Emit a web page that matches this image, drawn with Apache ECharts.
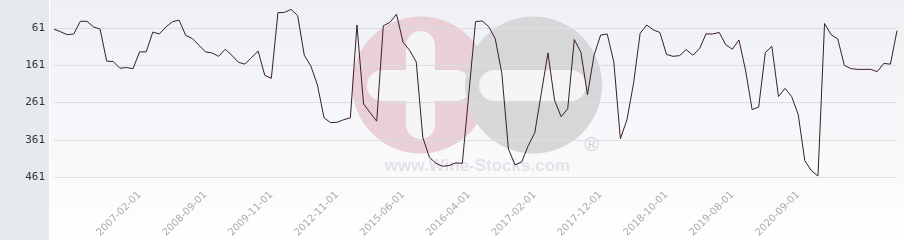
<!DOCTYPE html>
<html>
<head>
<meta charset="utf-8">
<script src="https://cdn.jsdelivr.net/npm/echarts@6/dist/echarts.min.js"></script>
<style>
  html, body { margin: 0; padding: 0; background: #ffffff; }
  #chart { width: 904px; height: 240px; }
</style>
</head>
<body>
<div id="chart"></div>
<script>
// Rank values (lower is better; the y axis is inverted), one per period
const rankValues = [
  64, 71, 79, 77, 43, 43, 58, 64, 150, 151,
  169, 167, 170, 125, 125, 72, 77, 58, 44, 40,
  81, 89, 107, 125, 128, 137, 118, 134, 153, 158,
  140, 123, 188, 196, 20, 19, 11, 28, 134, 163,
  214, 302, 315, 314, 307, 302, 53, 265, 288, 311,
  55, 46, 24, 99, 121, 152, 355, 408, 424, 432,
  430, 423, 424, 235, 44, 42, 57, 90, 183, 386,
  428, 421, 377, 342, 235, 128, 255, 299, 278, 92,
  126, 240, 134, 80, 77, 152, 358, 307, 209, 75,
  53, 66, 73, 132, 137, 135, 119, 134, 117, 77,
  77, 73, 106, 118, 93, 174, 280, 273, 127, 110,
  245, 223, 245, 293, 417, 444, 458, 49, 79, 90,
  161, 170, 172, 172, 172, 178, 156, 158, 68
];

// Dates shown on the x axis and the position (period index) where each appears
const tickLabels = [
  '2007-02-01', '2008-09-01', '2009-11-01', '2012-11-01', '2015-06-01',
  '2016-04-01', '2017-02-01', '2017-12-01', '2018-10-01', '2019-08-01', '2020-09-01'
];
const tickIndices = [13, 23, 33, 43, 53, 63, 73, 83, 93, 103, 113];

// Y axis tick values
const yTicks = [61, 161, 261, 361, 461];

// Build the category list (unlabelled periods are left blank)
const categories = rankValues.map(() => '');
tickIndices.forEach((idx, i) => { categories[idx] = tickLabels[i]; });

const chart = echarts.init(document.getElementById('chart'), null, { renderer: 'canvas' });

const option = {
  animation: false,
  backgroundColor: '#ffffff',
  grid: { left: 54, right: 7, top: 5.65, bottom: 49.4, containLabel: false },
  graphic: {
    elements: [
      { type: 'rect', z: -30, silent: true,
        shape: { x: 0, y: 0, width: 49, height: 240 },
        style: { fill: '#e7eaed' } },
      { type: 'rect', z: -30, silent: true,
        shape: { x: 50, y: 0, width: 854, height: 240 },
        style: { fill: new echarts.graphic.LinearGradient(0, 0, 0, 1, [
          { offset: 0, color: '#eff0f5' },
          { offset: 0.8, color: '#fbfbfd' },
          { offset: 1, color: '#ffffff' }
        ]) } },
      // watermark
      { type: 'circle', z: -20, silent: true,
        shape: { cx: 420.5, cy: 85, r: 68.5 }, style: { fill: '#e9cfd6' } },
      { type: 'rect', z: -19, silent: true,
        shape: { x: 367, y: 70, width: 104, height: 31, r: 15.5 }, style: { fill: '#f5f5f8' } },
      { type: 'rect', z: -19, silent: true,
        shape: { x: 406, y: 31, width: 29, height: 108, r: 14.5 }, style: { fill: '#f5f5f8' } },
      { type: 'circle', z: -18, silent: true,
        shape: { cx: 533.5, cy: 85, r: 68.5 }, style: { fill: '#d7d7da' } },
      { type: 'rect', z: -17, silent: true,
        shape: { x: 479, y: 70, width: 107, height: 31, r: 15.5 }, style: { fill: '#f5f5f8' } },
      { type: 'text', z: -16, silent: true,
        style: { x: 477.5, y: 166.7, text: 'www.Wine-Stocks.com', align: 'center', verticalAlign: 'middle',
                 font: 'bold 17px "Liberation Sans", Arial, sans-serif', fill: '#e3e3e7' } },
      { type: 'text', z: -16, silent: true,
        style: { x: 591.7, y: 145, text: '®', align: 'center', verticalAlign: 'middle',
                 font: '20px "Liberation Sans", Arial, sans-serif', fill: '#d2d2d6' } }
    ]
  },
  xAxis: {
    type: 'category',
    data: categories,
    boundaryGap: false,
    axisLine: { show: false },
    axisTick: { show: false },
    splitLine: { show: false },
    axisLabel: {
      interval: (index) => tickIndices.indexOf(index) !== -1,
      rotate: 45,
      margin: 5,
      color: '#aaaaaa',
      fontFamily: 'DejaVu Sans',
      fontSize: 10
    }
  },
  yAxis: {
    type: 'value',
    inverse: true,
    min: 1,
    max: 491,
    axisLine: { show: false },
    axisTick: { show: false, customValues: yTicks },
    axisLabel: {
      customValues: yTicks,
      margin: 9,
      color: '#333333',
      fontFamily: 'DejaVu Sans Mono',
      fontSize: 11
    },
    splitLine: { show: true, lineStyle: { color: '#dedee2', width: 1 } }
  },
  series: [{
    type: 'line',
    data: rankValues,
    showSymbol: false,
    symbol: 'none',
    lineStyle: { color: '#3a1e2a', width: 1 },
    z: 5
  }]
};

chart.setOption(option);
</script>
</body>
</html>
